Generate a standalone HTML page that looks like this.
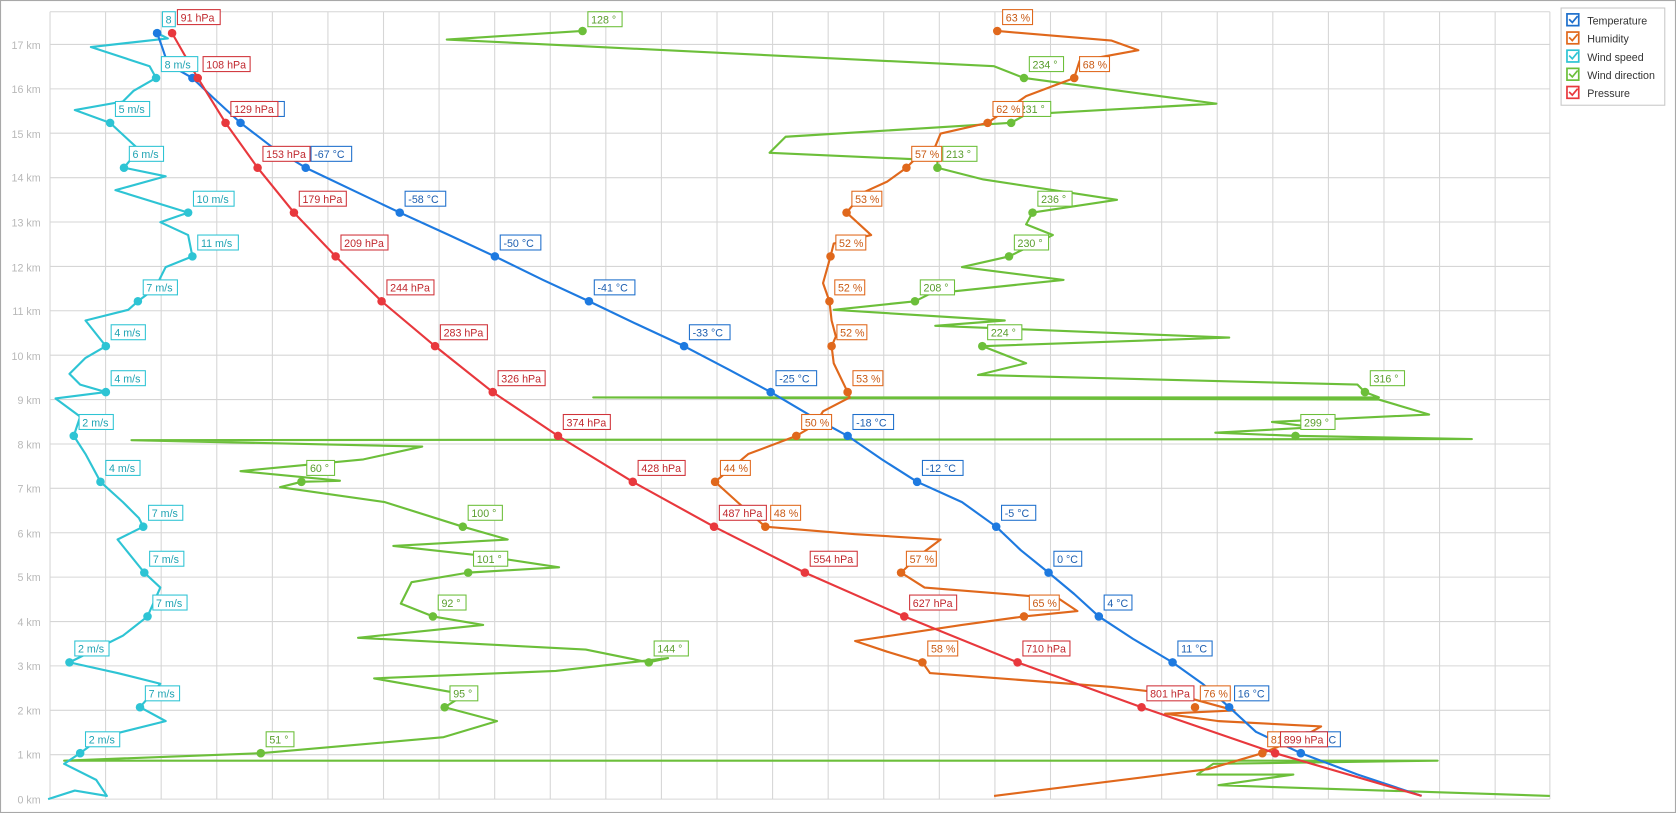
<!DOCTYPE html>
<html><head><meta charset="utf-8"><style>
html,body{margin:0;padding:0;background:#fff;}
svg{display:block;}
text{font-family:"Liberation Sans","DejaVu Sans",sans-serif;font-size:10px;}
.ax{fill:#b8b8b8;text-anchor:end;}
.g line{stroke:#d6d6d6;stroke-width:1;}
.s{fill:none;stroke-width:2;stroke-linejoin:round;}
</style></head><body>
<svg width="1676" height="813" viewBox="0 0 1568 761" preserveAspectRatio="none" xmlns="http://www.w3.org/2000/svg">
<rect x="0.5" y="0.5" width="1567" height="760" fill="#fff" stroke="#a8a8a8"/>
<g class="g">
<line x1="46.8" y1="11" x2="46.8" y2="748"/><line x1="98.8" y1="11" x2="98.8" y2="748"/><line x1="150.8" y1="11" x2="150.8" y2="748"/><line x1="202.8" y1="11" x2="202.8" y2="748"/><line x1="254.8" y1="11" x2="254.8" y2="748"/><line x1="306.8" y1="11" x2="306.8" y2="748"/><line x1="358.8" y1="11" x2="358.8" y2="748"/><line x1="410.8" y1="11" x2="410.8" y2="748"/><line x1="462.8" y1="11" x2="462.8" y2="748"/><line x1="514.8" y1="11" x2="514.8" y2="748"/><line x1="566.8" y1="11" x2="566.8" y2="748"/><line x1="618.8" y1="11" x2="618.8" y2="748"/><line x1="670.8" y1="11" x2="670.8" y2="748"/><line x1="722.8" y1="11" x2="722.8" y2="748"/><line x1="774.8" y1="11" x2="774.8" y2="748"/><line x1="826.8" y1="11" x2="826.8" y2="748"/><line x1="878.8" y1="11" x2="878.8" y2="748"/><line x1="930.8" y1="11" x2="930.8" y2="748"/><line x1="982.8" y1="11" x2="982.8" y2="748"/><line x1="1034.8" y1="11" x2="1034.8" y2="748"/><line x1="1086.8" y1="11" x2="1086.8" y2="748"/><line x1="1138.8" y1="11" x2="1138.8" y2="748"/><line x1="1190.8" y1="11" x2="1190.8" y2="748"/><line x1="1242.8" y1="11" x2="1242.8" y2="748"/><line x1="1294.8" y1="11" x2="1294.8" y2="748"/><line x1="1346.8" y1="11" x2="1346.8" y2="748"/><line x1="1398.8" y1="11" x2="1398.8" y2="748"/><line x1="1450" y1="11" x2="1450" y2="748"/>
<line x1="46.8" y1="11" x2="1450" y2="11"/>
<line x1="46.8" y1="748" x2="1450" y2="748"/><line x1="46.8" y1="706.4" x2="1450" y2="706.4"/><line x1="46.8" y1="664.9" x2="1450" y2="664.9"/><line x1="46.8" y1="623.3" x2="1450" y2="623.3"/><line x1="46.8" y1="581.8" x2="1450" y2="581.8"/><line x1="46.8" y1="540.2" x2="1450" y2="540.2"/><line x1="46.8" y1="498.7" x2="1450" y2="498.7"/><line x1="46.8" y1="457.1" x2="1450" y2="457.1"/><line x1="46.8" y1="415.6" x2="1450" y2="415.6"/><line x1="46.8" y1="374" x2="1450" y2="374"/><line x1="46.8" y1="332.5" x2="1450" y2="332.5"/><line x1="46.8" y1="290.9" x2="1450" y2="290.9"/><line x1="46.8" y1="249.4" x2="1450" y2="249.4"/><line x1="46.8" y1="207.8" x2="1450" y2="207.8"/><line x1="46.8" y1="166.3" x2="1450" y2="166.3"/><line x1="46.8" y1="124.7" x2="1450" y2="124.7"/><line x1="46.8" y1="83.2" x2="1450" y2="83.2"/><line x1="46.8" y1="41.6" x2="1450" y2="41.6"/>
</g>
<g class="ax">
<text x="38" y="752">0 km</text><text x="38" y="710">1 km</text><text x="38" y="669">2 km</text><text x="38" y="627">3 km</text><text x="38" y="586">4 km</text><text x="38" y="544">5 km</text><text x="38" y="503">6 km</text><text x="38" y="461">7 km</text><text x="38" y="420">8 km</text><text x="38" y="378">9 km</text><text x="38" y="337">10 km</text><text x="38" y="295">11 km</text><text x="38" y="254">12 km</text><text x="38" y="212">13 km</text><text x="38" y="170">14 km</text><text x="38" y="129">15 km</text><text x="38" y="87">16 km</text><text x="38" y="46">17 km</text>
</g>

<!-- Wind direction -->
<polyline class="s" stroke="#6cbf3a" points="545,29 418,37 930,62 958,73 1010,80 1138,97 960,107 946,115 735,128 720,143 877,150 877,157 920,168 1045,187 966,199 960,210 985,220 944,240 900,250 995,262 870,275 856,282 780,290 940,300 875,305 1150,316 919,324 960,340 915,351 1270,360 1277,367 1290,372 555,372 1290,374 1337,388 1190,395 1230,400 1137,405 1212,408 1377,411 123,412 395,418 340,430 225,441 318,450 282,451 262,456 360,470 433,493 475,505 368,511 450,520 523,531 438,536 385,545 375,565 405,577 452,585 335,597 548,608 607,620 625,616 520,628 350,635 435,650 416,662 465,675 415,690 244,705 60,712 1345,712 1135,715 1120,725 1210,725 1140,735 1450,745"/>
<!-- Humidity -->
<polyline class="s" stroke="#e0681c" points="933,29 1040,38 1065,47 1010,57 1005,73 960,90 924,115 880,125 875,137 855,150 848,157 830,170 808,180 792,199 815,220 780,228 777,240 770,265 776,282 778,300 782,315 778,324 780,340 793,367 795,372 770,385 762,398 745,408 700,425 669,451 690,470 716,493 800,500 880,505 860,520 843,536 865,550 990,560 1008,572 958,577 900,585 800,600 830,610 863,620 870,630 1040,643 1100,650 1155,665 1090,668 1140,675 1236,680 1218,690 1181,705 1130,720 930,745"/>
<!-- Wind speed -->
<polyline class="s" stroke="#2ec4d4" points="147,31 157,36 85,44 140,62 146,73 125,85 115,95 70,103 103,115 117,128 130,140 116,157 155,165 108,178 176,199 150,208 176,220 180,240 155,250 145,270 129,282 120,290 80,300 99,324 80,335 65,350 75,360 99,367 52,373 75,390 69,408 80,425 94,451 115,470 130,485 134,493 110,505 135,536 150,550 138,577 115,595 65,620 110,630 150,640 131,662 155,675 95,690 75,705 60,715 90,730 100,745 70,740 45,748"/>
<!-- Temperature -->
<polyline class="s" stroke="#1e7ae0" points="147,31 152,45 157,60 180,73 200,92 225,115 255,138 286,157 330,178 374,199 420,220 463,240 508,262 551,282 597,304 640,324 682,346 721,367 760,390 793,408 825,430 858,451 900,470 932,493 955,515 981,536 1005,556 1028,577 1060,598 1097,620 1125,640 1150,662 1175,685 1217,705 1270,725 1330,745"/>
<!-- Pressure -->
<polyline class="s" stroke="#e8383d" points="161,31 185,73 211,115 241,157 275,199 314,240 357,282 407,324 461,367 522,408 592,451 668,493 753,536 846,577 952,620 1068,662 1193,705 1330,745"/>

<!-- markers -->
<g fill="#6cbf3a"><circle cx="545" cy="29" r="4"/><circle cx="958" cy="73" r="4"/><circle cx="946" cy="115" r="4"/><circle cx="877" cy="157" r="4"/><circle cx="966" cy="199" r="4"/><circle cx="944" cy="240" r="4"/><circle cx="856" cy="282" r="4"/><circle cx="919" cy="324" r="4"/><circle cx="1277" cy="367" r="4"/><circle cx="1212" cy="408" r="4"/><circle cx="282" cy="451" r="4"/><circle cx="433" cy="493" r="4"/><circle cx="438" cy="536" r="4"/><circle cx="405" cy="577" r="4"/><circle cx="607" cy="620" r="4"/><circle cx="416" cy="662" r="4"/><circle cx="244" cy="705" r="4"/></g>
<g fill="#e0681c"><circle cx="933" cy="29" r="4"/><circle cx="1005" cy="73" r="4"/><circle cx="924" cy="115" r="4"/><circle cx="848" cy="157" r="4"/><circle cx="792" cy="199" r="4"/><circle cx="777" cy="240" r="4"/><circle cx="776" cy="282" r="4"/><circle cx="778" cy="324" r="4"/><circle cx="793" cy="367" r="4"/><circle cx="745" cy="408" r="4"/><circle cx="669" cy="451" r="4"/><circle cx="716" cy="493" r="4"/><circle cx="843" cy="536" r="4"/><circle cx="958" cy="577" r="4"/><circle cx="863" cy="620" r="4"/><circle cx="1118" cy="662" r="4"/><circle cx="1181" cy="705" r="4"/></g>
<g fill="#2ec4d4"><circle cx="147" cy="31" r="4"/><circle cx="146" cy="73" r="4"/><circle cx="103" cy="115" r="4"/><circle cx="116" cy="157" r="4"/><circle cx="176" cy="199" r="4"/><circle cx="180" cy="240" r="4"/><circle cx="129" cy="282" r="4"/><circle cx="99" cy="324" r="4"/><circle cx="99" cy="367" r="4"/><circle cx="69" cy="408" r="4"/><circle cx="94" cy="451" r="4"/><circle cx="134" cy="493" r="4"/><circle cx="135" cy="536" r="4"/><circle cx="138" cy="577" r="4"/><circle cx="65" cy="620" r="4"/><circle cx="131" cy="662" r="4"/><circle cx="75" cy="705" r="4"/></g>
<g fill="#1e7ae0"><circle cx="147" cy="31" r="4"/><circle cx="180" cy="73" r="4"/><circle cx="225" cy="115" r="4"/><circle cx="286" cy="157" r="4"/><circle cx="374" cy="199" r="4"/><circle cx="463" cy="240" r="4"/><circle cx="551" cy="282" r="4"/><circle cx="640" cy="324" r="4"/><circle cx="721" cy="367" r="4"/><circle cx="793" cy="408" r="4"/><circle cx="858" cy="451" r="4"/><circle cx="932" cy="493" r="4"/><circle cx="981" cy="536" r="4"/><circle cx="1028" cy="577" r="4"/><circle cx="1097" cy="620" r="4"/><circle cx="1150" cy="662" r="4"/><circle cx="1217" cy="705" r="4"/></g>
<g fill="#e8383d"><circle cx="161" cy="31" r="4"/><circle cx="185" cy="73" r="4"/><circle cx="211" cy="115" r="4"/><circle cx="241" cy="157" r="4"/><circle cx="275" cy="199" r="4"/><circle cx="314" cy="240" r="4"/><circle cx="357" cy="282" r="4"/><circle cx="407" cy="324" r="4"/><circle cx="461" cy="367" r="4"/><circle cx="522" cy="408" r="4"/><circle cx="592" cy="451" r="4"/><circle cx="668" cy="493" r="4"/><circle cx="753" cy="536" r="4"/><circle cx="846" cy="577" r="4"/><circle cx="952" cy="620" r="4"/><circle cx="1068" cy="662" r="4"/><circle cx="1193" cy="705" r="4"/></g>

<!-- labels: green -->
<g fill="#fff" stroke="#6cbf3a"><rect x="550" y="11" width="32" height="14"/><rect x="963" y="53" width="32" height="14"/><rect x="951" y="95" width="32" height="14"/><rect x="882" y="137" width="32" height="14"/><rect x="971" y="179" width="32" height="14"/><rect x="949" y="220" width="32" height="14"/><rect x="861" y="262" width="32" height="14"/><rect x="924" y="304" width="32" height="14"/><rect x="1282" y="347" width="32" height="14"/><rect x="1217" y="388" width="32" height="14"/><rect x="287" y="431" width="26" height="14"/><rect x="438" y="473" width="32" height="14"/><rect x="443" y="516" width="32" height="14"/><rect x="410" y="557" width="26" height="14"/><rect x="612" y="600" width="32" height="14"/><rect x="421" y="642" width="26" height="14"/><rect x="249" y="685" width="26" height="14"/></g>
<g fill="#5a9e2e"><text x="553" y="22">128 °</text><text x="966" y="64">234 °</text><text x="954" y="106">231 °</text><text x="885" y="148">213 °</text><text x="974" y="190">236 °</text><text x="952" y="231">230 °</text><text x="864" y="273">208 °</text><text x="927" y="315">224 °</text><text x="1285" y="358">316 °</text><text x="1220" y="399">299 °</text><text x="290" y="442">60 °</text><text x="441" y="484">100 °</text><text x="446" y="527">101 °</text><text x="413" y="568">92 °</text><text x="615" y="611">144 °</text><text x="424" y="653">95 °</text><text x="252" y="696">51 °</text></g>
<!-- orange -->
<g fill="#fff" stroke="#e0681c"><rect x="938" y="9" width="28" height="14"/><rect x="1010" y="53" width="28" height="14"/><rect x="929" y="95" width="28" height="14"/><rect x="853" y="137" width="28" height="14"/><rect x="797" y="179" width="28" height="14"/><rect x="782" y="220" width="28" height="14"/><rect x="781" y="262" width="28" height="14"/><rect x="783" y="304" width="28" height="14"/><rect x="798" y="347" width="28" height="14"/><rect x="750" y="388" width="28" height="14"/><rect x="674" y="431" width="28" height="14"/><rect x="721" y="473" width="28" height="14"/><rect x="848" y="516" width="28" height="14"/><rect x="963" y="557" width="28" height="14"/><rect x="868" y="600" width="28" height="14"/><rect x="1123" y="642" width="28" height="14"/><rect x="1186" y="685" width="28" height="14"/></g>
<g fill="#c95a14"><text x="941" y="20">63 %</text><text x="1013" y="64">68 %</text><text x="932" y="106">62 %</text><text x="856" y="148">57 %</text><text x="800" y="190">53 %</text><text x="785" y="231">52 %</text><text x="784" y="273">52 %</text><text x="786" y="315">52 %</text><text x="801" y="358">53 %</text><text x="753" y="399">50 %</text><text x="677" y="442">44 %</text><text x="724" y="484">48 %</text><text x="851" y="527">57 %</text><text x="966" y="568">65 %</text><text x="871" y="611">58 %</text><text x="1126" y="653">76 %</text><text x="1189" y="696">81 %</text></g>
<!-- cyan -->
<g fill="#fff" stroke="#2ec4d4"><rect x="152" y="11" width="12" height="14"/><rect x="151" y="53" width="34" height="14"/><rect x="108" y="95" width="32" height="14"/><rect x="121" y="137" width="32" height="14"/><rect x="181" y="179" width="38" height="14"/><rect x="185" y="220" width="38" height="14"/><rect x="134" y="262" width="32" height="14"/><rect x="104" y="304" width="32" height="14"/><rect x="104" y="347" width="32" height="14"/><rect x="74" y="388" width="32" height="14"/><rect x="99" y="431" width="32" height="14"/><rect x="139" y="473" width="32" height="14"/><rect x="140" y="516" width="32" height="14"/><rect x="143" y="557" width="32" height="14"/><rect x="70" y="600" width="32" height="14"/><rect x="136" y="642" width="32" height="14"/><rect x="80" y="685" width="32" height="14"/></g>
<g fill="#1fa3b3"><text x="155" y="22">8</text><text x="154" y="64">8 m/s</text><text x="111" y="106">5 m/s</text><text x="124" y="148">6 m/s</text><text x="184" y="190">10 m/s</text><text x="188" y="231">11 m/s</text><text x="137" y="273">7 m/s</text><text x="107" y="315">4 m/s</text><text x="107" y="358">4 m/s</text><text x="77" y="399">2 m/s</text><text x="102" y="442">4 m/s</text><text x="142" y="484">7 m/s</text><text x="143" y="527">7 m/s</text><text x="146" y="568">7 m/s</text><text x="73" y="611">2 m/s</text><text x="139" y="653">7 m/s</text><text x="83" y="696">2 m/s</text></g>
<!-- blue -->
<g fill="#fff" stroke="#1e6fcc"><rect x="230" y="95" width="36" height="14"/><rect x="291" y="137" width="38" height="14"/><rect x="379" y="179" width="38" height="14"/><rect x="468" y="220" width="38" height="14"/><rect x="556" y="262" width="38" height="14"/><rect x="645" y="304" width="38" height="14"/><rect x="726" y="347" width="38" height="14"/><rect x="798" y="388" width="38" height="14"/><rect x="863" y="431" width="38" height="14"/><rect x="937" y="473" width="32" height="14"/><rect x="986" y="516" width="26" height="14"/><rect x="1033" y="557" width="26" height="14"/><rect x="1102" y="600" width="32" height="14"/><rect x="1155" y="642" width="32" height="14"/><rect x="1222" y="685" width="32" height="14"/></g>
<g fill="#1e5fb0"><text x="294" y="148">-67 °C</text><text x="382" y="190">-58 °C</text><text x="471" y="231">-50 °C</text><text x="559" y="273">-41 °C</text><text x="648" y="315">-33 °C</text><text x="729" y="358">-25 °C</text><text x="801" y="399">-18 °C</text><text x="866" y="442">-12 °C</text><text x="940" y="484">-5 °C</text><text x="989" y="527">0 °C</text><text x="1036" y="568">4 °C</text><text x="1105" y="611">11 °C</text><text x="1158" y="653">16 °C</text><text x="1225" y="696">21 °C</text></g>
<!-- red -->
<g fill="#fff" stroke="#d0333a"><rect x="166" y="9" width="40" height="14"/><rect x="190" y="53" width="44" height="14"/><rect x="216" y="95" width="44" height="14"/><rect x="246" y="137" width="44" height="14"/><rect x="280" y="179" width="44" height="14"/><rect x="319" y="220" width="44" height="14"/><rect x="362" y="262" width="44" height="14"/><rect x="412" y="304" width="44" height="14"/><rect x="466" y="347" width="44" height="14"/><rect x="527" y="388" width="44" height="14"/><rect x="597" y="431" width="44" height="14"/><rect x="673" y="473" width="44" height="14"/><rect x="758" y="516" width="44" height="14"/><rect x="851" y="557" width="44" height="14"/><rect x="957" y="600" width="44" height="14"/><rect x="1073" y="642" width="44" height="14"/><rect x="1198" y="685" width="44" height="14"/></g>
<g fill="#c0282e"><text x="169" y="20">91 hPa</text><text x="193" y="64">108 hPa</text><text x="219" y="106">129 hPa</text><text x="249" y="148">153 hPa</text><text x="283" y="190">179 hPa</text><text x="322" y="231">209 hPa</text><text x="365" y="273">244 hPa</text><text x="415" y="315">283 hPa</text><text x="469" y="358">326 hPa</text><text x="530" y="399">374 hPa</text><text x="600" y="442">428 hPa</text><text x="676" y="484">487 hPa</text><text x="761" y="527">554 hPa</text><text x="854" y="568">627 hPa</text><text x="960" y="611">710 hPa</text><text x="1076" y="653">801 hPa</text><text x="1201" y="696">899 hPa</text></g>

<!-- legend -->
<rect x="1460.5" y="7.5" width="97" height="91" fill="#fff" stroke="#c8c8c8"/>
<g stroke-width="1.6" fill="none">
<rect x="1466" y="13" width="11" height="11" stroke="#1e6fcc" fill="#fff"/><path d="M1468,18 l3,3 l5,-6" stroke="#1e6fcc"/>
<rect x="1466" y="30" width="11" height="11" stroke="#e0681c" fill="#fff"/><path d="M1468,35 l3,3 l5,-6" stroke="#e0681c"/>
<rect x="1466" y="47" width="11" height="11" stroke="#2ec4d4" fill="#fff"/><path d="M1468,52 l3,3 l5,-6" stroke="#2ec4d4"/>
<rect x="1466" y="64" width="11" height="11" stroke="#6cbf3a" fill="#fff"/><path d="M1468,69 l3,3 l5,-6" stroke="#6cbf3a"/>
<rect x="1466" y="81" width="11" height="11" stroke="#e8383d" fill="#fff"/><path d="M1468,86 l3,3 l5,-6" stroke="#e8383d"/>
</g>
<g fill="#333"><text x="1485" y="23">Temperature</text><text x="1485" y="40">Humidity</text><text x="1485" y="57">Wind speed</text><text x="1485" y="74">Wind direction</text><text x="1485" y="91">Pressure</text></g>
</svg>
</body></html>
